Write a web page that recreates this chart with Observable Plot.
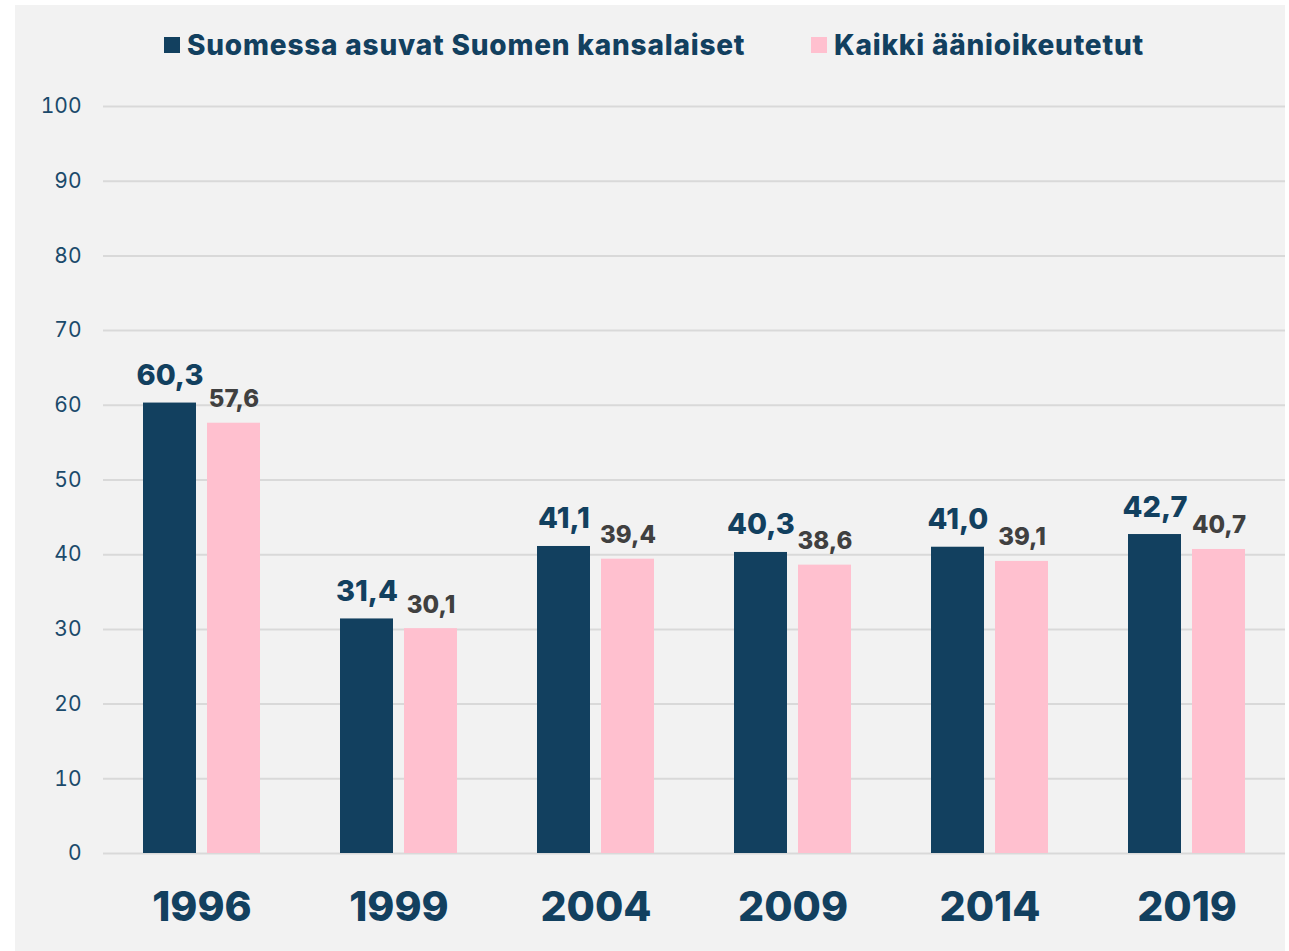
<!DOCTYPE html>
<html>
<head>
<meta charset="utf-8">
<script src="https://cdn.jsdelivr.net/npm/d3@7"></script>
<script src="https://cdn.jsdelivr.net/npm/@observablehq/plot@0.6"></script>
<style>
  html, body { margin: 0; padding: 0; background: #ffffff; }
  #panel { position: absolute; left: 15px; top: 5px; width: 1270px; height: 946px; background: #f2f2f2; overflow: hidden; }
  #legend { position: absolute; left: 0; top: 0; width: 1270px; height: 65px; font-family: Inter, "Open Sans", sans-serif; font-weight: 800; font-size: 28px; letter-spacing: 0.8px; color: #12405f; }
  .item { position: absolute; top: 24px; display: flex; align-items: center; height: 32px; white-space: nowrap; }
  .sw { width: 16px; height: 16px; margin-right: 7px; }
  #chart { position: absolute; left: 0; top: 65px; }
  #chart svg { background: transparent; overflow: visible; }
</style>
</head>
<body>
<div id="panel">
  <div id="legend"></div>
  <div id="chart"></div>
</div>
<script>
const years = ["1996", "1999", "2004", "2009", "2014", "2019"];
const seriesNames = ["Suomessa asuvat Suomen kansalaiset", "Kaikki äänioikeutetut"];
const citizens = [60.3, 31.4, 41.1, 40.3, 41.0, 42.7];
const allVoters = [57.6, 30.1, 39.4, 38.6, 39.1, 40.7];
const yTicks = [0, 10, 20, 30, 40, 50, 60, 70, 80, 90, 100];
const colors = ["#12405f", "#ffc0cf"];

const data = [];
years.forEach((y, i) => {
  data.push({year: y, series: seriesNames[0], value: citizens[i]});
  data.push({year: y, series: seriesNames[1], value: allVoters[i]});
});
const fmt = v => v.toFixed(1).replace(".", ",");

// Legend
const legend = document.getElementById("legend");
const legendX = [149, 796];
seriesNames.forEach((s, i) => {
  const it = document.createElement("div");
  it.className = "item";
  it.style.left = legendX[i] + "px";
  const sw = document.createElement("div");
  sw.className = "sw";
  sw.style.background = colors[i];
  it.appendChild(sw);
  const t = document.createElement("span");
  t.textContent = s;
  it.appendChild(t);
  legend.appendChild(it);
});

const chart = Plot.plot({
  width: 1270,
  height: 881,
  marginLeft: 87,
  marginRight: 0,
  marginTop: 36,
  marginBottom: 98,
  style: {fontFamily: "Inter, 'Open Sans', sans-serif", background: "transparent"},
  fx: {domain: years, padding: 0, label: null, axis: null},
  x: {domain: seriesNames, paddingInner: 0.172, paddingOuter: 0.625, axis: null},
  y: {domain: [0, 100], label: null},
  color: {domain: seriesNames, range: colors},
  marks: [
    Plot.gridY(yTicks, {stroke: "#d9d9d9", strokeOpacity: 1, strokeWidth: 2}),
    Plot.axisY(yTicks, {tickSize: 0, tickPadding: 22, fontSize: 21, fill: "#1b4a6b", label: null}),
    Plot.axisFx({anchor: "bottom", tickSize: 0, tickPadding: 38, fontSize: 41, fontWeight: 800, fill: "#12405f", label: null}),
    Plot.barY(data, {fx: "year", x: "series", y: "value", fill: "series"}),
    Plot.text(data.filter(d => d.series === seriesNames[0]), {
      fx: "year", x: "series", y: "value", text: d => fmt(d.value),
      lineAnchor: "bottom", dy: -18, fontSize: 29, fontWeight: 800, fill: "#12405f",
      letterSpacing: 0.5
    }),
    Plot.text(data.filter(d => d.series === seriesNames[1]), {
      fx: "year", x: "series", y: "value", text: d => fmt(d.value),
      lineAnchor: "bottom", dy: -16, fontSize: 24, fontWeight: 800, fill: "#404040",
      letterSpacing: 0.5
    })
  ]
});
document.getElementById("chart").appendChild(chart);
</script>
</body>
</html>
